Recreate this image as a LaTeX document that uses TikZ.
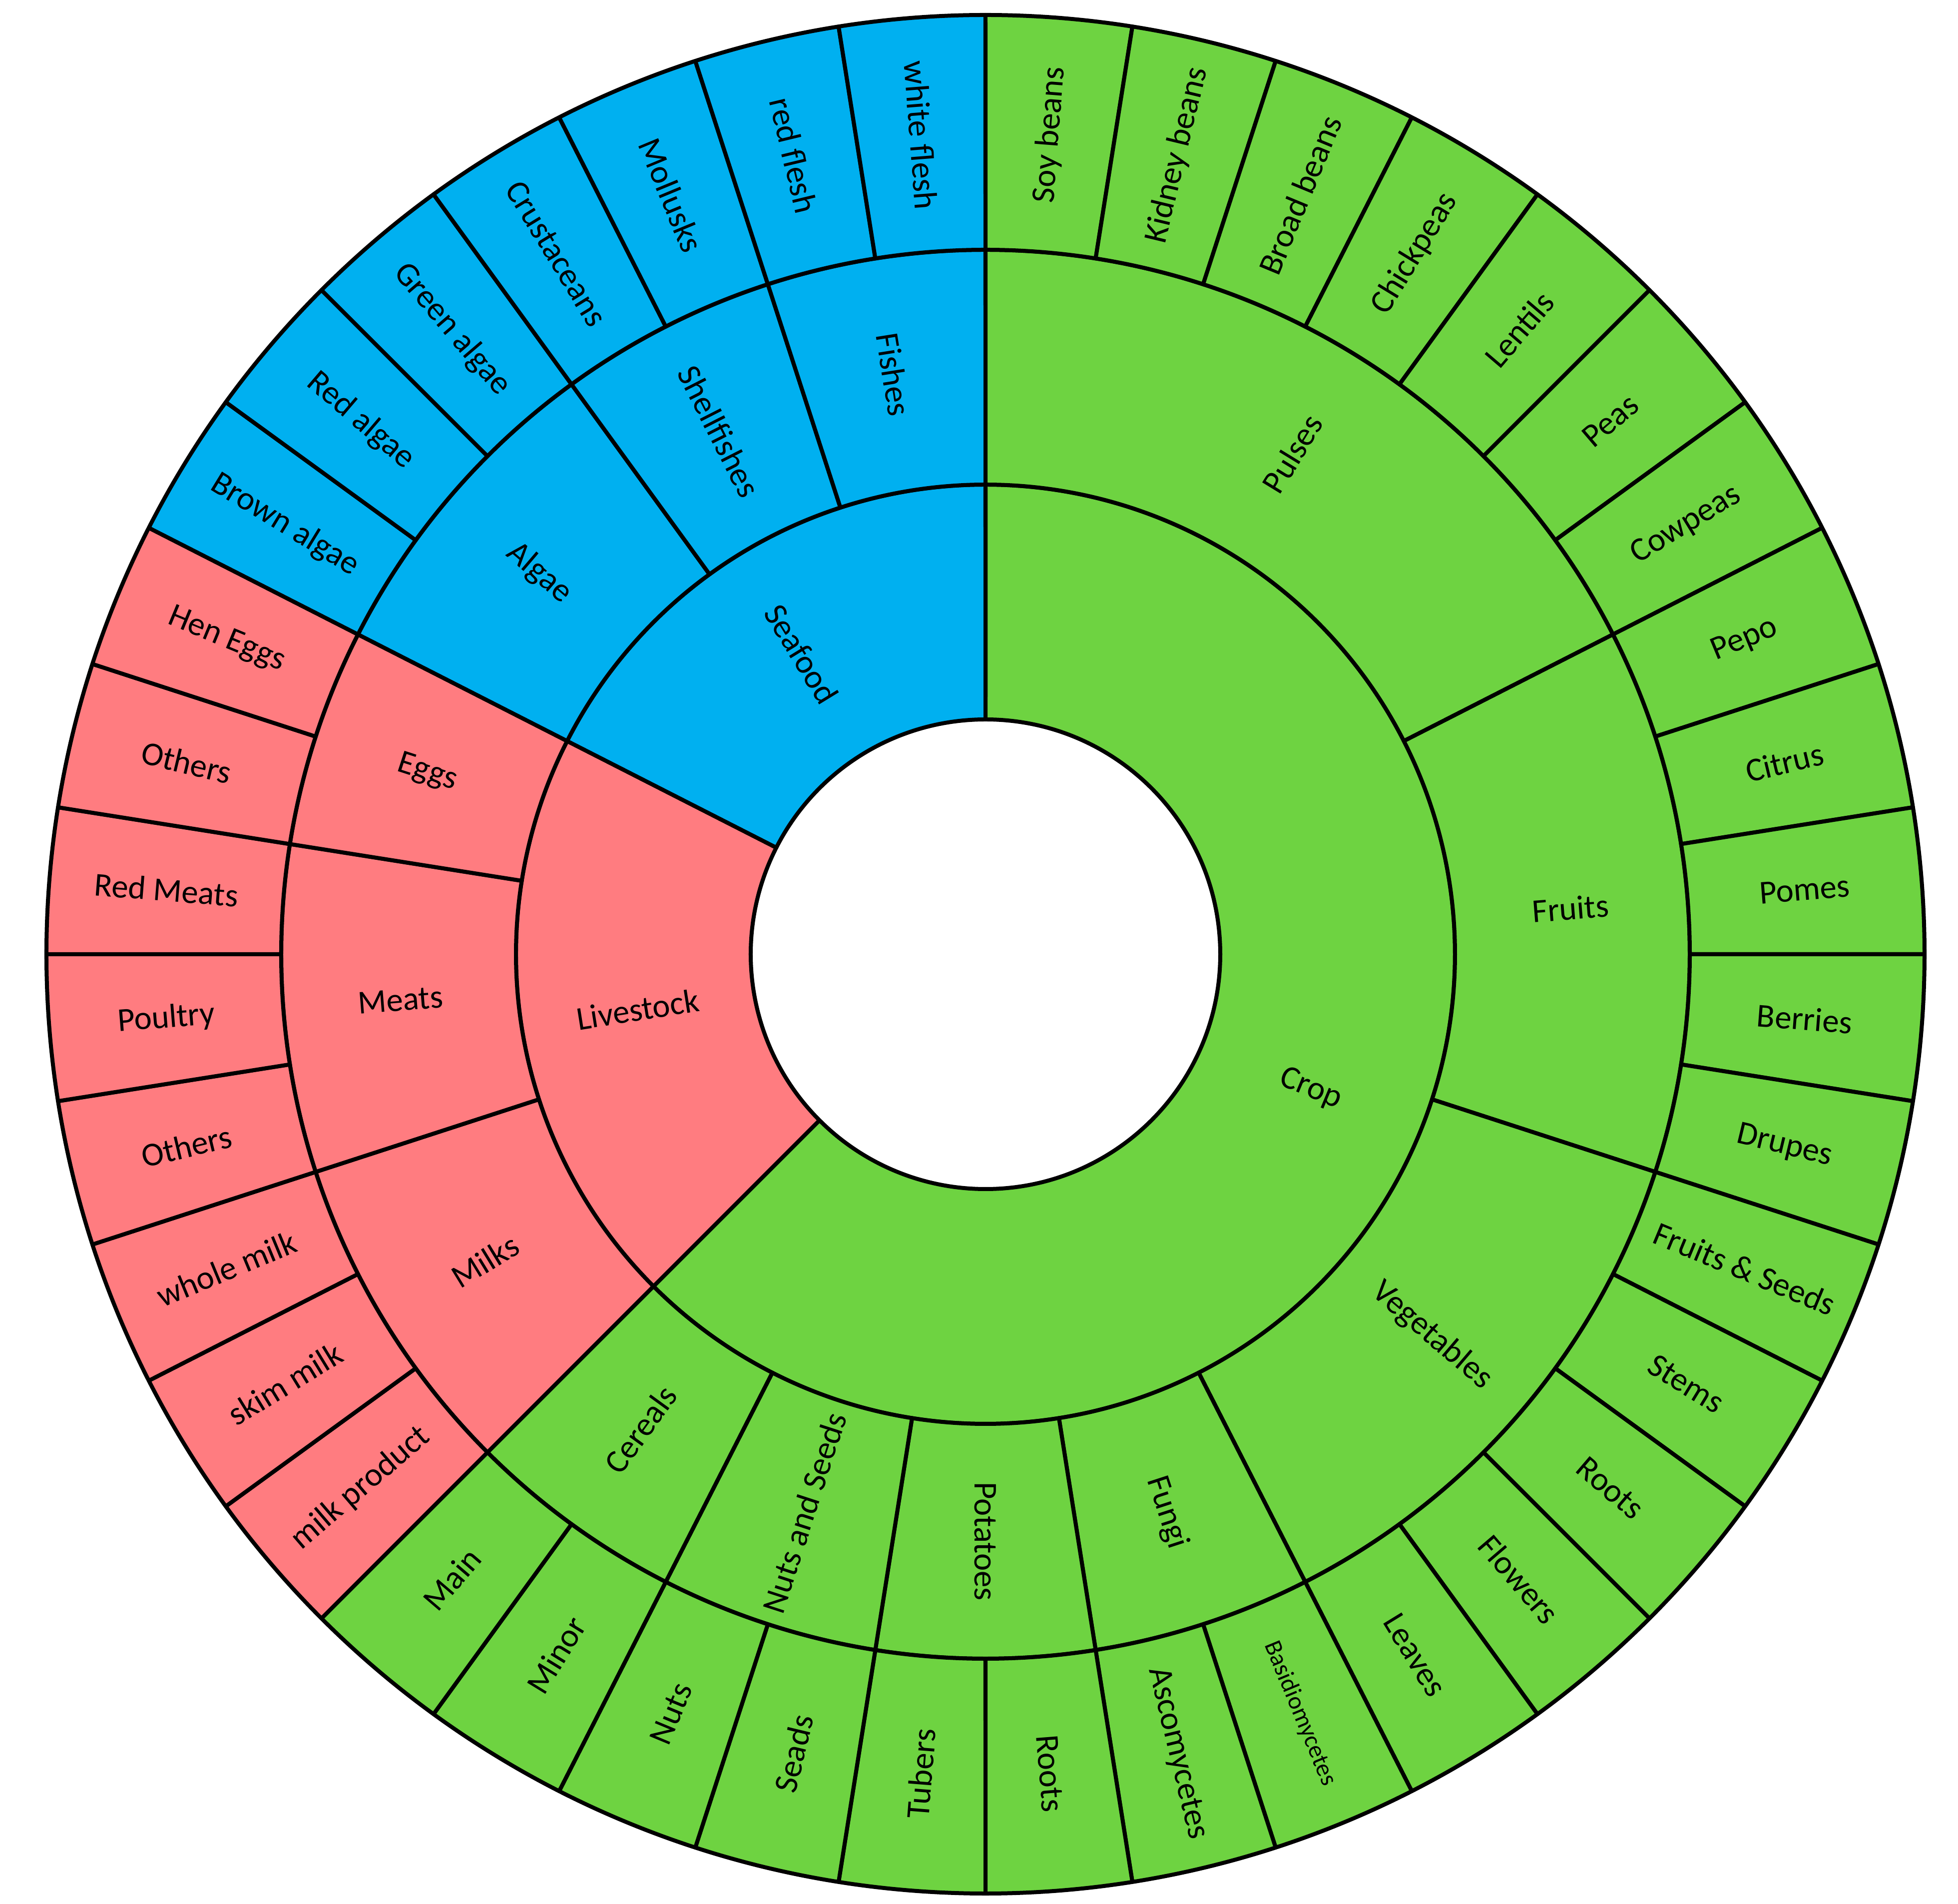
\documentclass[tikz,border=0pt]{standalone}
\usepackage{fontspec}
\setmainfont{Carlito}
\definecolor{cropc}{RGB}{110,211,65}
\definecolor{livec}{RGB}{255,124,128}
\definecolor{seac}{RGB}{0,176,240}
\tikzset{
  segline/.style={draw=black, line width=0.08cm, line join=round},
  lab/.style={font=\fontsize{19}{22}\selectfont, text=black, inner sep=0pt}
}
% #1 name, #2 colour, #3 inner radius, #4 outer radius, #5 start angle, #6 end angle, #7 label
\newcommand\sbseg[7]{%
  \filldraw[segline, fill=#2] (#5:#3) arc[start angle=#5, end angle=#6, radius=#3]
     -- (#6:#4) arc[start angle=#6, end angle=#5, radius=#4] -- cycle;
  \pgfmathsetmacro\sbmid{(#5+#6)/2}%
  \pgfmathsetmacro\sbrad{(#3+#4)/2}%
  \pgfmathsetmacro\sbrot{\sbmid<-90.5 ? \sbmid+180 : \sbmid}%
  \node[lab, rotate=\sbrot] (#1) at (\sbmid:\sbrad) {#7};%
}
\begin{document}
\begin{tikzpicture}
\useasboundingbox (-19.73,-19.01) rectangle (19.47,19.10);
% inner ring
\sbseg{crop}{cropc}{4.7}{9.4}{90}{-135}{Crop}
\sbseg{livestock}{livec}{4.7}{9.4}{-135}{-207}{Livestock}
\sbseg{seafood}{seac}{4.7}{9.4}{-207}{-270}{Seafood}
% middle ring
\sbseg{pulses}{cropc}{9.4}{14.1}{90}{27}{Pulses}
\sbseg{fruits}{cropc}{9.4}{14.1}{27}{-18}{Fruits}
\sbseg{vegetables}{cropc}{9.4}{14.1}{-18}{-63}{Vegetables}
\sbseg{fungi}{cropc}{9.4}{14.1}{-63}{-81}{Fungi}
\sbseg{potatoes}{cropc}{9.4}{14.1}{-81}{-99}{Potatoes}
\sbseg{nutsseeds}{cropc}{9.4}{14.1}{-99}{-117}{Nuts and Seeds}
\sbseg{cereals}{cropc}{9.4}{14.1}{-117}{-135}{Cereals}
\sbseg{milks}{livec}{9.4}{14.1}{-135}{-162}{Milks}
\sbseg{meats}{livec}{9.4}{14.1}{-162}{-189}{Meats}
\sbseg{eggs}{livec}{9.4}{14.1}{-189}{-207}{Eggs}
\sbseg{algae}{seac}{9.4}{14.1}{-207}{-234}{Algae}
\sbseg{shellfishes}{seac}{9.4}{14.1}{-234}{-252}{Shellfishes}
\sbseg{fishes}{seac}{9.4}{14.1}{-252}{-270}{Fishes}
% outer ring: 40 leaves of 9 degrees each, clockwise from the top
\foreach \lab [count=\i from 0] in {Soy beans, Kidney beans, Broad beans, Chickpeas, Lentils, Peas, Cowpeas,
  Pepo, Citrus, Pomes, Berries, Drupes,
  Fruits \& Seeds, Stems, Roots, Flowers, Leaves,
  {\fontsize{14}{16}\selectfont Basidiomycetes}, Ascomycetes,
  Roots, Tubers, Seads, Nuts, Minor, Main,
  milk product, skim milk, whole milk, Others, Poultry, Red Meats, Others, Hen Eggs,
  Brown algae, Red algae, Green algae, Crustaceans, Mollusks, red flesh, white flesh}{
  \ifnum\i<25 \def\sbcol{cropc}\else\ifnum\i<33 \def\sbcol{livec}\else\def\sbcol{seac}\fi\fi
  \pgfmathsetmacro\sba{90-9*\i}
  \pgfmathsetmacro\sbb{90-9*(\i+1)}
  \sbseg{leaf\i}{\sbcol}{14.1}{18.8}{\sba}{\sbb}{\lab}
}
\end{tikzpicture}
\end{document}
